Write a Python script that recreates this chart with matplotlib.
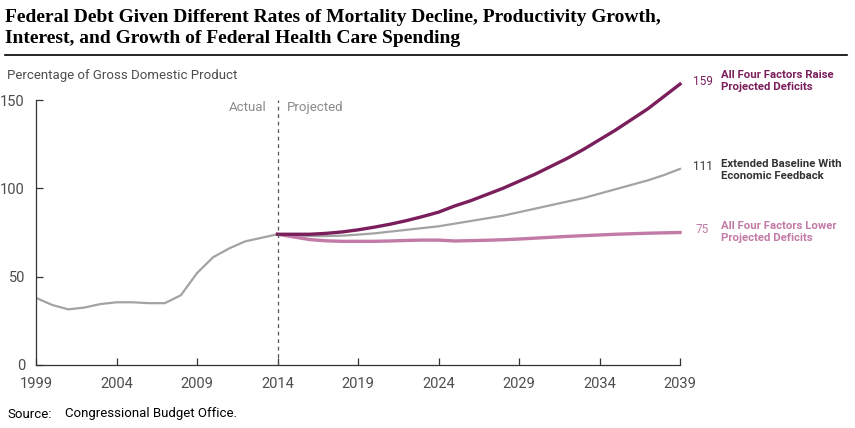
import matplotlib
matplotlib.use('Agg')
import matplotlib.pyplot as plt
from matplotlib.transforms import Bbox

plt.rcParams['font.family'] = ['Roboto', 'DejaVu Sans']

actual_years = list(range(1999, 2015))
actual_debt = [38, 34, 31.5, 32.5, 34.5, 35.5, 35.5, 35, 35, 39.5, 52, 61, 66, 70, 72, 74]

proj_years = list(range(2014, 2040))
baseline = [74, 73.5, 73, 73, 73.2, 73.8, 74.5, 75.5, 76.5, 77.5, 78.5, 80, 81.5, 83, 84.5,
            86.5, 88.5, 90.5, 92.5, 94.5, 97, 99.5, 102, 104.5, 107.5, 111]
raise_deficits = [74, 74, 74, 74.5, 75.3, 76.5, 78, 79.7, 81.7, 84, 86.5, 90, 93, 96.5, 100,
                  104, 108, 112.5, 117, 122, 127.5, 133, 139, 145, 152, 159]
lower_deficits = [74, 72.5, 71, 70.3, 70, 70, 70, 70.2, 70.5, 70.7, 70.7, 70.2, 70.4, 70.6, 70.9,
                  71.3, 71.8, 72.3, 72.8, 73.2, 73.6, 74, 74.3, 74.6, 74.8, 75]

x_ticks = list(range(1999, 2040, 5))
y_ticks = [0, 50, 100, 150]

GREY = '#a3a3a3'
DARK = '#7a1f5c'
PINK = '#c27aa6'
TEXT = '#4d4d4d'

fig = plt.figure(figsize=(8.55, 4.28), dpi=100)
ax = fig.add_axes([36 / 855, 1 - 365 / 428, 644 / 855, 265 / 428])

ax.plot(actual_years, actual_debt, color=GREY, lw=1.6)
ax.plot(proj_years, baseline, color=GREY, lw=1.6, clip_on=False)
ax.plot(proj_years, lower_deficits, color=PINK, lw=2.4, clip_on=False)
ax.plot(proj_years, raise_deficits, color=DARK, lw=2.4, clip_on=False)

ax.axvline(2014, color='#555555', lw=0.9, ls=(0, (3, 3)))

ax.set_xlim(1999, 2039)
ax.set_ylim(0, 150)
ax.set_xticks(x_ticks)
ax.set_yticks(y_ticks)
for s in ['top', 'right']:
    ax.spines[s].set_visible(False)
for s in ['left', 'bottom']:
    ax.spines[s].set_color('#333333')
    ax.spines[s].set_linewidth(0.9)
ax.tick_params(direction='in', length=5, width=0.9, color='#333333', labelcolor=TEXT, labelsize=10.5)
ax.tick_params(axis='y', pad=8)
ax.tick_params(axis='x', pad=9)

ax.text(2013.3, 145.5, 'Actual', ha='right', va='center', color='#8a8a8a', fontsize=9.5)
ax.text(2014.6, 145.5, 'Projected', ha='left', va='center', color='#8a8a8a', fontsize=9.5)

# end labels
ends = [(raise_deficits[-1], '159', DARK), (baseline[-1], '111', '#333333'), (lower_deficits[-1], '75', PINK)]
offs = [9, 9, 11]
for (val, txt, col), dx in zip(ends, offs):
    ax.annotate(txt, xy=(2039, val), xytext=(dx, 2), textcoords='offset points', ha='left', va='center',
                color=col, fontsize=8.5, annotation_clip=False)

lab_x = 721 / 855
lab_fs = 8.2
fig.text(lab_x, 1 - 81 / 428, 'All Four Factors Raise\nProjected Deficits', color=DARK, fontsize=lab_fs,
         fontweight='bold', va='center', ha='left', linespacing=1.25)
fig.text(lab_x, 1 - 232 / 428, 'All Four Factors Lower\nProjected Deficits', color=PINK, fontsize=lab_fs,
         fontweight='bold', va='center', ha='left', linespacing=1.25)
t = fig.text(lab_x, 1 - 170 / 428, 'Extended Baseline With\nEconomic Feedback', color='#333333', fontsize=lab_fs,
             fontweight='bold', va='center', ha='left', linespacing=1.25)
# the original cuts this label off just under its second line
t.set_clip_box(Bbox.from_extents(0, 428 - 179, 855, 428 - 150))
t.set_clip_on(True)

fig.text(7 / 855, 1 - 75 / 428, 'Percentage of Gross Domestic Product', color=TEXT, fontsize=9.5,
         va='center', ha='left')

fig.text(5 / 855, 1 - 9 / 428, 'Federal Debt Given Different Rates of Mortality Decline, Productivity Growth,\n'
         'Interest, and Growth of Federal Health Care Spending', family='Liberation Serif',
         fontweight='bold', fontsize=14, va='top', ha='left', linespacing=1.3, color='black')
fig.add_artist(plt.Line2D([5 / 855, 847 / 855], [1 - 55 / 428, 1 - 55 / 428], color='black', lw=1.2,
                          transform=fig.transFigure))

fig.text(7 / 855, 1 - 414 / 428, 'Source:', color='black', fontsize=9.5, va='center', ha='left')
fig.text(65 / 855, 1 - 414 / 428, 'Congressional Budget Office.', color='black', fontsize=9.5,
         va='center', ha='left')

fig.savefig('out.png', dpi=100)
